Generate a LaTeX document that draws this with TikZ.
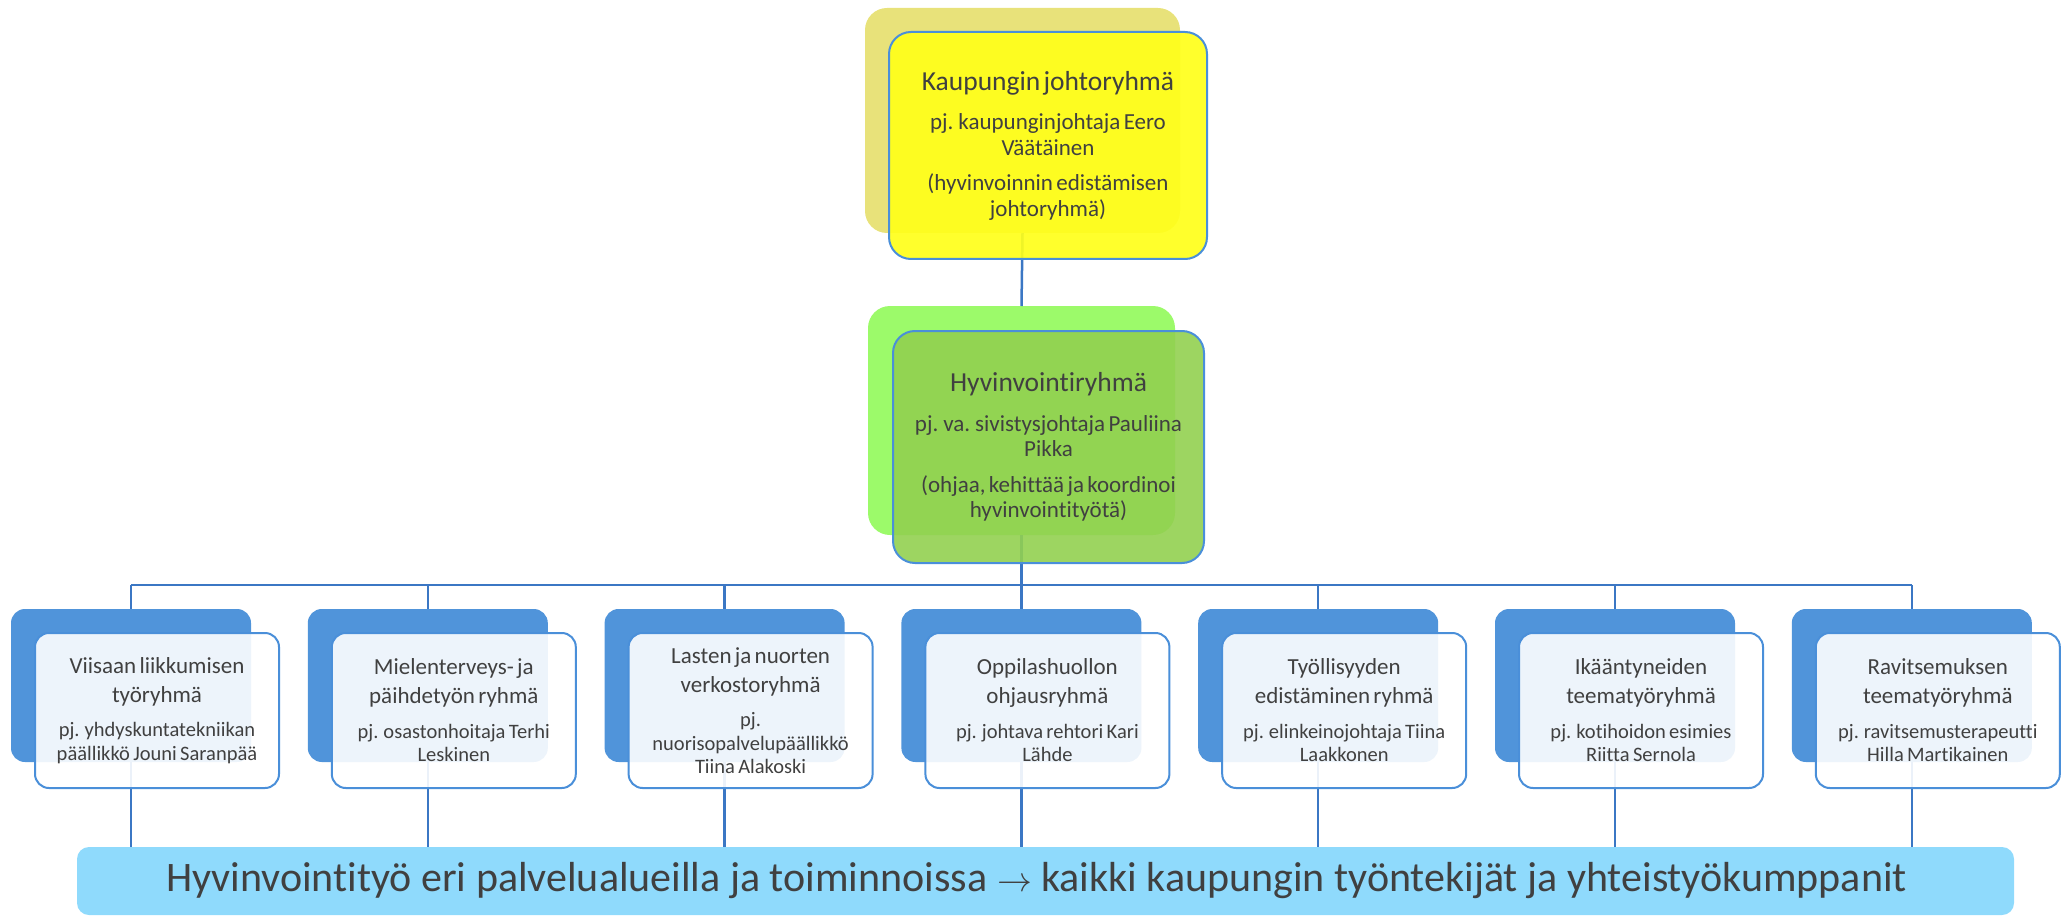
\documentclass[tikz,border=0pt]{standalone}
\usepackage{fontspec}
\setmainfont{Carlito}[RawFeature={-liga}]
\definecolor{connc}{HTML}{3B77C4}
\definecolor{bordr}{HTML}{4A8FD9}
\definecolor{lback}{HTML}{5094DA}
\definecolor{khaki}{HTML}{E8E27A}
\definecolor{yel}{HTML}{FFFF1A}
\definecolor{brightgreen}{HTML}{9CFA6A}
\definecolor{olive}{HTML}{92D050}
\definecolor{sky}{HTML}{8FDAFC}
\definecolor{txt}{HTML}{404040}
\newcommand\lowtext[2]{{\fontsize{23}{29}\selectfont #1\par}\vskip 11pt{\fontsize{20.5}{23.5}\selectfont #2\par}}
\newcommand\toptext[3]{{\fontsize{27.5}{33}\selectfont #1\par}\vskip 14pt{\fontsize{23}{25.5}\selectfont #2\par}\vskip 10pt{\fontsize{23}{25.5}\selectfont #3\par}}
\tikzset{
  connline/.style={draw=connc, line width=2.5pt},
  backbox/.style={rounded corners=14pt, inner sep=0pt, outer sep=0pt, minimum width=240pt, minimum height=153pt, fill=lback},
  frontbox/.style={rounded corners=14pt, draw=bordr, line width=2pt, fill=white, fill opacity=0.9, text opacity=1, inner sep=0pt, outer sep=0pt, minimum width=244pt, minimum height=155pt, text=txt, align=center, text width=238pt},
  bigback/.style={rounded corners=22pt, inner sep=0pt, outer sep=0pt},
  bigfront/.style={rounded corners=22pt, draw=bordr, line width=2pt, text opacity=1, inner sep=0pt, outer sep=0pt, text=txt, align=center, text width=305pt},
}
\begin{document}
\begin{tikzpicture}[x=1pt,y=-1pt]
\useasboundingbox (0,0) rectangle (2071,917);
% bottom bar
\node[fill=sky, rounded corners=12pt, inner sep=0pt, outer sep=0pt, minimum width=1937pt, minimum height=68pt, text=txt, font=\fontsize{42}{48}\selectfont] (big) at (1045.5,881) {Hyvinvointityö eri palvelualueilla ja toiminnoissa \scalebox{1.4}{$\rightarrow$} kaikki kaupungin työntekijät ja yhteistyökumppanit\kern18pt};
% back boxes
\node[bigback, fill=khaki, minimum width=315pt, minimum height=225pt] (topb) at (1022.5,120.5) {};
\node[bigback, fill=brightgreen, minimum width=307pt, minimum height=229pt] (midb) at (1021.5,420.5) {};
\node[backbox] (lb1) at (131,685.5) {};
\node[backbox] (lb2) at (427.8,685.5) {};
\node[backbox] (lb3) at (724.6,685.5) {};
\node[backbox] (lb4) at (1021.4,685.5) {};
\node[backbox] (lb5) at (1318.2,685.5) {};
\node[backbox] (lb6) at (1615,685.5) {};
\node[backbox] (lb7) at (1911.8,685.5) {};
% connectors
\coordinate (bar) at (1021,585);
\draw[connline] (topb.south) -- (midb.north);
\draw[connline] (midb.south) -- (midb.south |- bar);
\draw[connline] (lb1.north |- bar) -- (lb7.north |- bar);
\foreach \i in {1,...,7}{
  \draw[connline] (lb\i.north |- bar) -- (lb\i.north);
  \draw[connline] (lb\i.south) -- (lb\i.south |- big.north);
}
% front boxes
\node[bigfront, fill=yel, fill opacity=0.92, minimum width=318pt, minimum height=227pt] (topf) at (1048,145.5)
  {\toptext{Kaupungin johtoryhmä}{pj. kaupunginjohtaja Eero\\Väätäinen}{(hyvinvoinnin edistämisen\\johtoryhmä)}};
\node[bigfront, fill=olive, fill opacity=0.9, minimum width=311pt, minimum height=232pt] (midf) at (1048.5,447)
  {\toptext{Hyvinvointiryhmä}{pj. va. sivistysjohtaja Pauliina\\Pikka}{(ohjaa, kehittää ja koordinoi\\hyvinvointityötä)}};
\node[frontbox] (lf1) at (157,710.5) {\lowtext{Viisaan liikkumisen\\työryhmä}{pj. yhdyskuntatekniikan\\päällikkö Jouni Saranpää}};
\node[frontbox] (lf2) at (453.8,710.5) {\lowtext{Mielenterveys- ja\\päihdetyön ryhmä}{pj. osastonhoitaja Terhi\\Leskinen}};
\node[frontbox] (lf3) at (750.6,710.5) {\lowtext{Lasten ja nuorten\\verkostoryhmä}{pj.\\nuorisopalvelupäällikkö\\Tiina Alakoski}};
\node[frontbox] (lf4) at (1047.4,710.5) {\lowtext{Oppilashuollon\\ohjausryhmä}{pj. johtava rehtori Kari\\Lähde}};
\node[frontbox] (lf5) at (1344.2,710.5) {\lowtext{Työllisyyden\\edistäminen ryhmä}{pj. elinkeinojohtaja Tiina\\Laakkonen}};
\node[frontbox] (lf6) at (1641,710.5) {\lowtext{Ikääntyneiden\\teematyöryhmä}{pj. kotihoidon esimies\\Riitta Sernola}};
\node[frontbox] (lf7) at (1937.8,710.5) {\lowtext{Ravitsemuksen\\teematyöryhmä}{pj. ravitsemusterapeutti\\Hilla Martikainen}};
\end{tikzpicture}
\end{document}
